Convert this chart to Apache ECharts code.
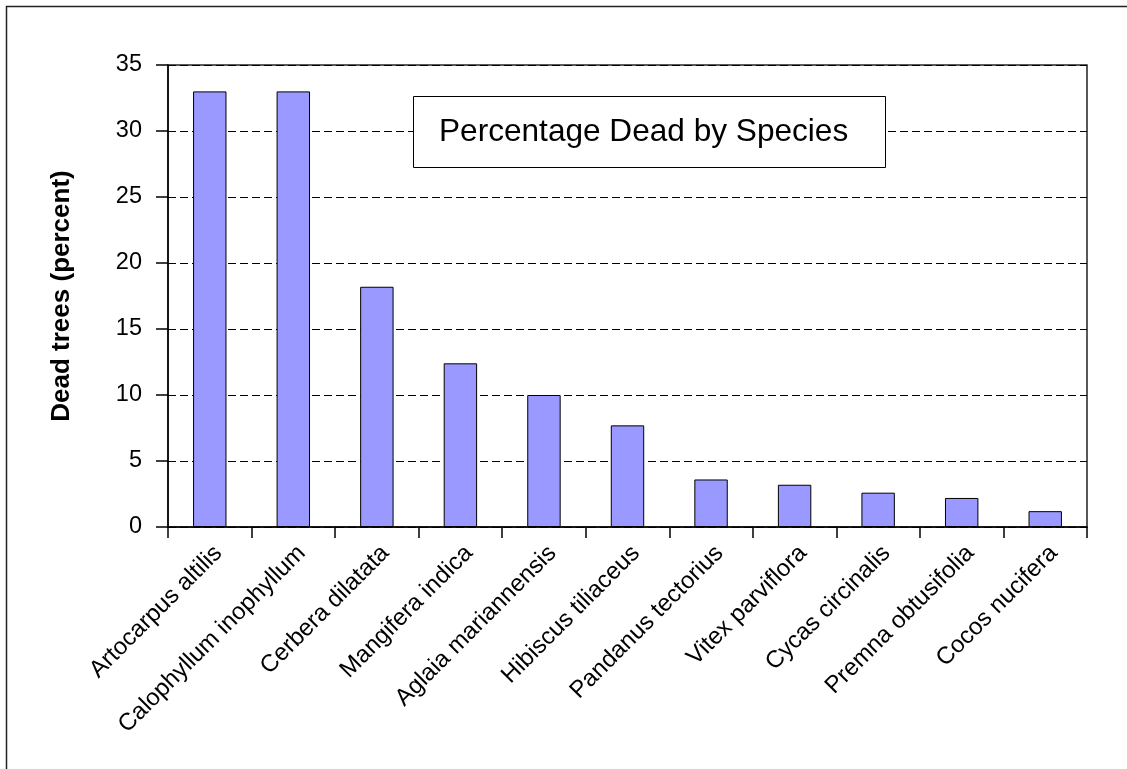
<!DOCTYPE html>
<html>
<head>
<meta charset="utf-8">
<style>
  html, body { margin: 0; padding: 0; background: #ffffff; }
  #chart { width: 1127px; height: 769px; }
</style>
<script src="https://cdn.jsdelivr.net/npm/echarts@6/dist/echarts.min.js"></script>
</head>
<body>
<div id="chart"></div>
<script>
// Species surveyed, in descending order of mortality
const species = [
  'Artocarpus altilis',
  'Calophyllum inophyllum',
  'Cerbera dilatata',
  'Mangifera indica',
  'Aglaia mariannensis',
  'Hibiscus tiliaceus',
  'Pandanus tectorius',
  'Vitex parviflora',
  'Cycas circinalis',
  'Premna obtusifolia',
  'Cocos nucifera'
];

// Share of trees found dead, percent
const deadPercent = [33.0, 33.0, 18.2, 12.4, 10.0, 7.7, 3.6, 3.2, 2.6, 2.2, 1.2];

// Value axis range and step
const yMin = 0;
const yMax = 35;
const yStep = 5;

const chartTitle = 'Percentage Dead by Species';
const yAxisTitle = 'Dead trees (percent)';

const FONT = '"Liberation Sans", Arial, sans-serif';

const chart = echarts.init(document.getElementById('chart'), null, { renderer: 'canvas' });

chart.setOption({
  animation: false,
  backgroundColor: '#ffffff',
  textStyle: { fontFamily: FONT, color: '#000' },
  title: {
    text: chartTitle,
    left: 413,
    top: 96,
    padding: [20, 38, 20, 26],
    backgroundColor: '#ffffff',
    borderColor: '#000000',
    borderWidth: 1,
    textStyle: {
      fontFamily: FONT,
      fontSize: 31.6,
      fontWeight: 'normal',
      color: '#000'
    }
  },
  grid: {
    left: 168,
    right: 40,
    top: 65,
    bottom: 242,
    show: true,
    borderColor: '#222',
    borderWidth: 1.5,
    backgroundColor: 'transparent'
  },
  xAxis: {
    type: 'category',
    data: species,
    boundaryGap: true,
    axisLine: { show: true, lineStyle: { color: '#000', width: 1.5 } },
    axisTick: { show: true, length: 11, lineStyle: { color: '#000', width: 1.5 } },
    axisLabel: {
      interval: 0,
      rotate: 45,
      margin: 14,
      align: 'right',
      verticalAlign: 'top',
      fontFamily: FONT,
      fontSize: 24,
      color: '#000'
    },
    splitLine: { show: false }
  },
  yAxis: {
    type: 'value',
    min: yMin,
    max: yMax,
    interval: yStep,
    name: yAxisTitle,
    nameLocation: 'middle',
    nameGap: 93,
    nameTextStyle: {
      fontFamily: FONT,
      fontSize: 26,
      fontWeight: 'bold',
      color: '#000'
    },
    axisLine: { show: true, lineStyle: { color: '#000', width: 1.5 } },
    axisTick: { show: true, length: 12, lineStyle: { color: '#000', width: 1.5 } },
    axisLabel: {
      margin: 26,
      fontFamily: FONT,
      fontSize: 23.5,
      color: '#000'
    },
    splitLine: {
      show: true,
      lineStyle: { color: '#000', width: 1, type: [8, 4] }
    }
  },
  series: [{
    type: 'bar',
    data: deadPercent,
    barCategoryGap: '60%',
    itemStyle: {
      color: '#9999ff',
      borderColor: '#000000',
      borderWidth: 1
    }
  }],
  graphic: [{
    type: 'rect',
    silent: true,
    z: 100,
    shape: { x: 6.5, y: 6.5, width: 1300, height: 1000 },
    style: { fill: 'none', stroke: '#222', lineWidth: 1.5 }
  }]
});
</script>
</body>
</html>
